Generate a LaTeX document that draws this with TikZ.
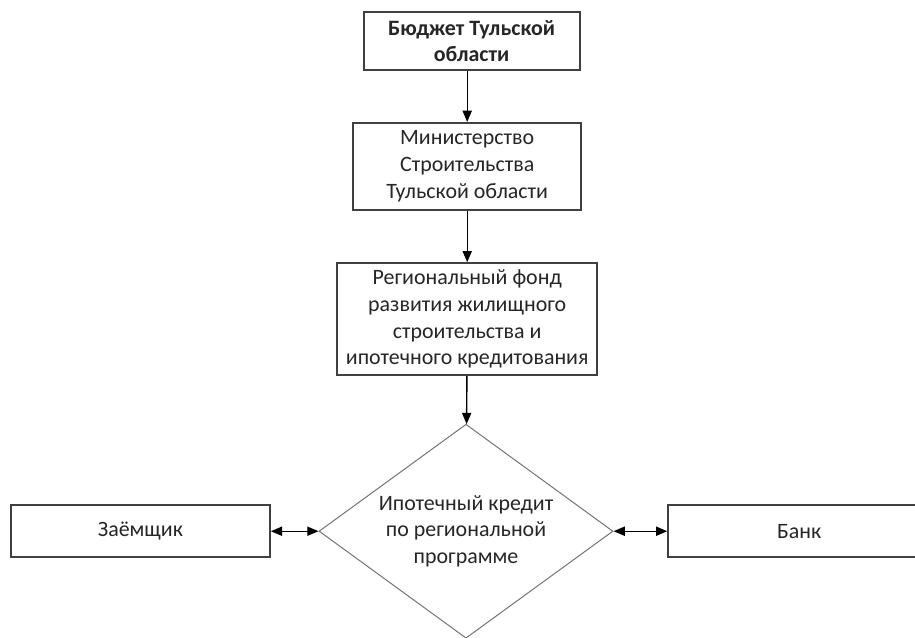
\documentclass[tikz,border=0pt]{standalone}
\usepackage{fontspec}
\setmainfont{Carlito}
\usepackage{tikz}
\usetikzlibrary{positioning, shapes.geometric, arrows.meta}
\tikzstyle{myarrow}=[line width=1pt, -{Triangle[length=8pt, width=6.5pt]}]
\tikzstyle{mybiarrow}=[line width=1pt, {Triangle[length=8pt, width=6.5pt]}-{Triangle[length=8pt, width=6.5pt]}]

\begin{document}
\begin{tikzpicture}
            \tikzset {
                basic node/.style={
                        draw=black!75,
                        line width=1.3pt,
                        fill=white,
                        text=black!85,
                        font=\fontsize{15.6}{19}\selectfont,
                        align=center,
                        inner sep=0pt
                    },
                choice node/.style={
                        draw=black!55,
                        line width=0.7pt,
                        shape=diamond,
                        aspect=1.374,
                        text=black!85,
                        font=\fontsize{15.6}{19}\selectfont,
                        align=center,
                        inner sep=0pt
                    }}

            \clip (0,0) rectangle (22.875,-15.925);

            % chain
            \node[basic node, minimum width=5.4cm, minimum height=1.45cm] (budget) at (11.79,-1.03) {\textbf{Бюджет Тульской}\\\textbf{области}};
            \node[basic node, minimum width=5.7cm, minimum height=2.175cm] (ministry) at (11.68,-4.16) {Министерство\\Строительства\\Тульской области};
            \node[basic node, minimum width=6.5cm, minimum height=2.8cm] (fund) at (11.68,-7.98) {Региональный фонд\\развития жилищного\\строительства и\\ипотечного кредитования};
            \node[choice node, minimum width=7.35cm, minimum height=5.35cm] (credit) at (11.65,-13.28) {Ипотечный кредит\\по региональной\\программе};

            % sides
            \node[basic node, minimum width=6.475cm, minimum height=1.3cm] (borrower) at (3.51,-13.28) {Заёмщик};
            \node[basic node, minimum width=6.55cm, minimum height=1.3cm] (bank) at (19.98,-13.28) {Банк};

            \draw[myarrow] (ministry.north |- budget.south) -- (ministry.north);
            \draw[myarrow] (ministry) -- (fund);
            \draw[myarrow] (fund) -- (credit);
            \draw[mybiarrow] (borrower) -- (credit);
            \draw[mybiarrow] (credit) -- (bank);
        \end{tikzpicture}
\end{document}
